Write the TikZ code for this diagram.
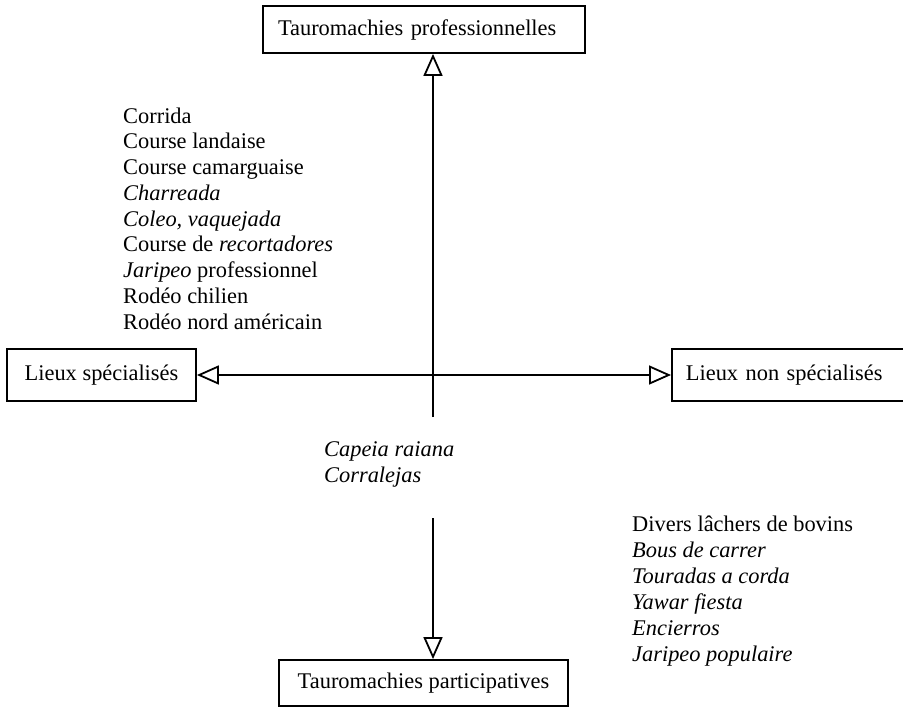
\documentclass[tikz,border=0pt]{standalone}
\usepackage{fontspec}
\setmainfont{Liberation Serif}
\usetikzlibrary{arrows.meta}
\newcommand{\diagfont}{\fontsize{22.4}{26}\selectfont}
\begin{document}
\begin{tikzpicture}[x=1pt,y=-1pt,
  box/.style={draw, line width=1.8pt, inner ysep=0pt, font=\diagfont},
  txt/.style={anchor=base west, inner sep=0pt, font=\diagfont},
  link/.style={line width=1.8pt},
  opentip/.style={-{Triangle[open,length=22pt,width=19pt]}},
  bothtips/.style={{Triangle[open,length=22pt,width=19pt]}-{Triangle[open,length=22pt,width=19pt]}}
]
\useasboundingbox (0,0) rectangle (903,707);
\clip (0,0) rectangle (903,707);

% boxes
\node[box, minimum width=322pt, minimum height=47pt, text width=292pt, inner xsep=15pt, align=left] (top) at (424,29.5) {Tauromachies professionnelles};
\node[box, minimum width=189pt, minimum height=52pt, inner xsep=0pt] (left) at (101.5,375) {Lieux spécialisés};
\node[box, anchor=west, minimum width=240pt, minimum height=52pt, text width=212pt, inner xsep=14pt, align=left] (right) at (671,375) {Lieux non spécialisés};
\node[box, minimum width=289pt, minimum height=46pt, inner xsep=0pt] (bottom) at (423.5,683) {Tauromachies participatives};

% connectors
\coordinate (upEnd) at (433,417);
\coordinate (lowStart) at (433,518);
\draw[link, opentip] (upEnd) -- (upEnd |- top.south);
\draw[link, bothtips] (left.east) -- (right.west);
\draw[link, opentip] (lowStart) -- (lowStart |- bottom.north);

% professional list
\node[txt] (p1) at (123,123) {Corrida};
\node[txt] (p2) at (123,148.75) {Course landaise};
\node[txt] (p3) at (123,174.5) {Course camarguaise};
\node[txt] (p4) at (123,200.25) {\textit{Charreada}};
\node[txt] (p5) at (123,226) {\textit{Coleo, vaquejada}};
\node[txt] (p6) at (123,251.75) {Course de \textit{recortadores}};
\node[txt] (p7) at (123,277.5) {\textit{Jaripeo} professionnel};
\node[txt] (p8) at (123,303.25) {Rodéo chilien};
\node[txt] (p9) at (123,329) {Rodéo nord américain};

% middle list
\node[txt] (m1) at (324,456) {\textit{Capeia raiana}};
\node[txt] (m2) at (324,482) {\textit{Corralejas}};

% participative list
\node[txt] (r1) at (632,531) {Divers lâchers de bovins};
\node[txt] (r2) at (632,557) {\textit{Bous de carrer}};
\node[txt] (r3) at (632,583) {\textit{Touradas a corda}};
\node[txt] (r4) at (632,609) {\textit{Yawar fiesta}};
\node[txt] (r5) at (632,635) {\textit{Encierros}};
\node[txt] (r6) at (632,661) {\textit{Jaripeo populaire}};
\end{tikzpicture}
\end{document}
